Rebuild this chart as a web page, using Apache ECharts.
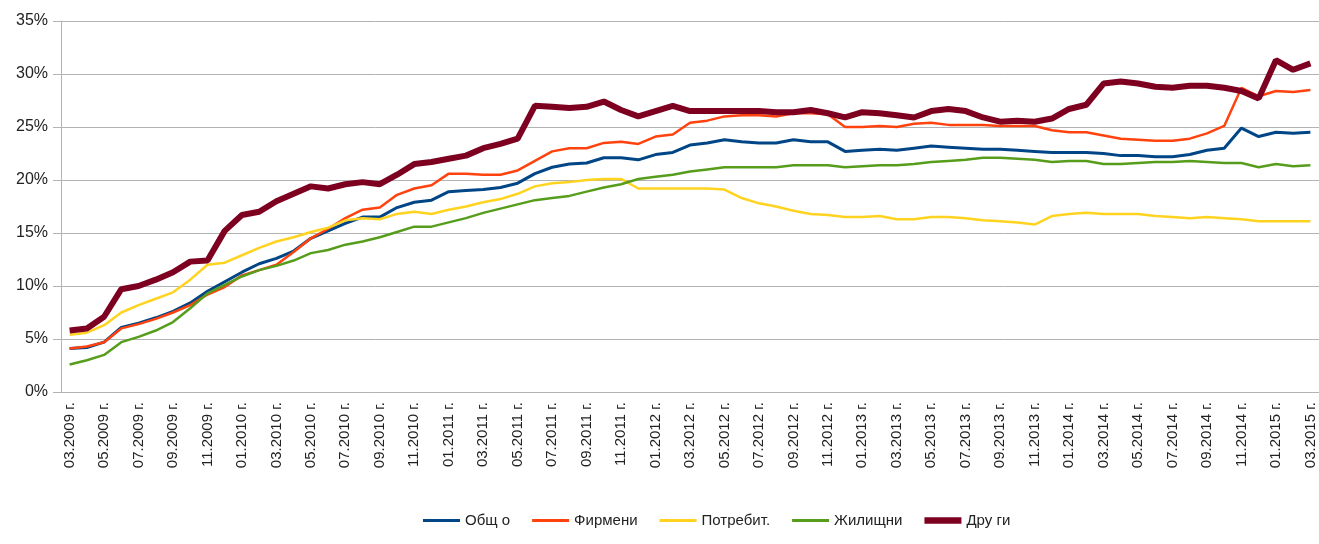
<!DOCTYPE html>
<html>
<head>
<meta charset="utf-8">
<script src="https://cdn.jsdelivr.net/npm/echarts@6/dist/echarts.min.js"></script>
<style>
  html, body { margin: 0; padding: 0; background: #fff; }
  #chart { width: 1319px; height: 544px; }
</style>
</head>
<body>
<div id="chart"></div>
<script>
// months 03.2009 - 03.2015
var months = [];
for (var y = 2009; y <= 2015; y++) {
    for (var m = 1; m <= 12; m++) {
        if (y == 2009 && m < 3) continue;
        if (y == 2015 && m > 3) continue;
        months.push((m < 10 ? '0' + m : '' + m) + '.' + y + ' г.');
    }
}

var seriesNames = ['Общ о', 'Фирмени', 'Потребит.', 'Жилищни', 'Дру ги'];

var obshto = [
    4.1, 4.2, 4.7, 6.1, 6.5, 7.0, 7.6, 8.4, 9.5, 10.4,
    11.3, 12.1, 12.6, 13.3, 14.5, 15.2, 15.9, 16.5, 16.5, 17.4,
    17.9, 18.1, 18.9, 19.0, 19.1, 19.3, 19.7, 20.6, 21.2, 21.5,
    21.6, 22.1, 22.1, 21.9, 22.4, 22.6, 23.3, 23.5, 23.8, 23.6,
    23.5, 23.5, 23.8, 23.6, 23.6, 22.7, 22.8, 22.9, 22.8, 23.0,
    23.2, 23.1, 23.0, 22.9, 22.9, 22.8, 22.7, 22.6, 22.6, 22.6,
    22.5, 22.3, 22.3, 22.2, 22.2, 22.4, 22.8, 23.0, 24.9, 24.1,
    24.5, 24.4, 24.5
];
var firmeni = [
    4.1, 4.3, 4.7, 6.0, 6.4, 6.9, 7.5, 8.2, 9.2, 9.9,
    11.0, 11.5, 12.0, 13.2, 14.5, 15.4, 16.4, 17.2, 17.4, 18.6,
    19.2, 19.5, 20.6, 20.6, 20.5, 20.5, 20.9, 21.8, 22.7, 23.0,
    23.0, 23.5, 23.6, 23.4, 24.1, 24.3, 25.4, 25.6, 26.0, 26.1,
    26.1, 26.0, 26.3, 26.3, 26.2, 25.0, 25.0, 25.1, 25.0, 25.3,
    25.4, 25.2, 25.2, 25.2, 25.1, 25.1, 25.1, 24.7, 24.5, 24.5,
    24.2, 23.9, 23.8, 23.7, 23.7, 23.9, 24.4, 25.1, 28.7, 27.9,
    28.4, 28.3, 28.5
];
var potrebit = [
    5.4, 5.6, 6.3, 7.5, 8.2, 8.8, 9.4, 10.6, 12.0, 12.2,
    12.9, 13.6, 14.2, 14.6, 15.1, 15.5, 16.2, 16.4, 16.3, 16.8,
    17.0, 16.8, 17.2, 17.5, 17.9, 18.2, 18.7, 19.4, 19.7, 19.8,
    20.0, 20.1, 20.1, 19.2, 19.2, 19.2, 19.2, 19.2, 19.1, 18.3,
    17.8, 17.5, 17.1, 16.8, 16.7, 16.5, 16.5, 16.6, 16.3, 16.3,
    16.5, 16.5, 16.4, 16.2, 16.1, 16.0, 15.8, 16.6, 16.8, 16.9,
    16.8, 16.8, 16.8, 16.6, 16.5, 16.4, 16.5, 16.4, 16.3, 16.1,
    16.1, 16.1, 16.1
];
var zhilishtni = [
    2.6, 3.0, 3.5, 4.7, 5.2, 5.8, 6.6, 7.9, 9.3, 10.1,
    10.9, 11.5, 11.9, 12.4, 13.1, 13.4, 13.9, 14.2, 14.6, 15.1,
    15.6, 15.6, 16.0, 16.4, 16.9, 17.3, 17.7, 18.1, 18.3, 18.5,
    18.9, 19.3, 19.6, 20.1, 20.3, 20.5, 20.8, 21.0, 21.2, 21.2,
    21.2, 21.2, 21.4, 21.4, 21.4, 21.2, 21.3, 21.4, 21.4, 21.5,
    21.7, 21.8, 21.9, 22.1, 22.1, 22.0, 21.9, 21.7, 21.8, 21.8,
    21.5, 21.5, 21.6, 21.7, 21.7, 21.8, 21.7, 21.6, 21.6, 21.2,
    21.5, 21.3, 21.4
];
var drugi = [
    5.8, 6.0, 7.1, 9.7, 10.0, 10.6, 11.3, 12.3, 12.4, 15.2,
    16.7, 17.0, 18.0, 18.7, 19.4, 19.2, 19.6, 19.8, 19.6, 20.5,
    21.5, 21.7, 22.0, 22.3, 23.0, 23.4, 23.9, 27.0, 26.9, 26.8,
    26.9, 27.4, 26.6, 26.0, 26.5, 27.0, 26.5, 26.5, 26.5, 26.5,
    26.5, 26.4, 26.4, 26.6, 26.3, 25.9, 26.4, 26.3, 26.1, 25.9,
    26.5, 26.7, 26.5, 25.9, 25.5, 25.6, 25.5, 25.8, 26.7, 27.1,
    29.1, 29.3, 29.1, 28.8, 28.7, 28.9, 28.9, 28.7, 28.4, 27.7,
    31.3, 30.4, 31.0
];

var colors = ['#004586', '#ff420e', '#ffd320', '#579d1c', '#7e0021'];
var widths = [3, 2.5, 2.5, 2.5, 6];
var values = [obshto, firmeni, potrebit, zhilishtni, drugi];
// legend icons: thin bar for all, thick bar for the last one
var thinIcon = 'path://M0,0M0,10M0,3.5H40V6.5H0Z';
var thickIcon = 'path://M0,0M0,10M0,1.5H40V8.5H0Z';

var series = [];
var legendData = [];
for (var i = 0; i < seriesNames.length; i++) {
    series.push({
        name: seriesNames[i],
        type: 'line',
        data: values[i],
        showSymbol: false,
        symbol: 'none',
        lineStyle: { color: colors[i], width: widths[i] },
        itemStyle: { color: colors[i] },
        animation: false
    });
    legendData.push({ name: seriesNames[i], icon: i == 4 ? thickIcon : thinIcon });
}

var myChart = echarts.init(document.getElementById('chart'));
var option = {
    textStyle: { fontFamily: 'Liberation Sans, Arial, sans-serif' },
    grid: { left: 61, right: -6, top: 21, bottom: 152 },
    legend: {
        data: legendData,
        left: 418,
        top: 508,
        itemWidth: 37,
        itemHeight: 10,
        itemGap: 22,
        textStyle: { fontSize: 15, color: '#222' }
    },
    xAxis: {
        type: 'category',
        data: months,
        boundaryGap: true,
        axisLine: { lineStyle: { color: '#b3b3b3' } },
        axisTick: { interval: 1, length: 5, lineStyle: { color: '#b3b3b3' } },
        axisLabel: { interval: 1, rotate: 90, margin: 10, fontSize: 15, color: '#222' }
    },
    yAxis: {
        type: 'value',
        min: 0,
        max: 35,
        interval: 5,
        axisLine: { show: true, lineStyle: { color: '#b3b3b3' } },
        axisTick: { show: true, length: 8, lineStyle: { color: '#b3b3b3' } },
        axisLabel: { formatter: '{value}%', fontSize: 16, color: '#222', margin: 13 },
        splitLine: { lineStyle: { color: '#b3b3b3' } }
    },
    series: series
};
myChart.setOption(option);
</script>
</body>
</html>
